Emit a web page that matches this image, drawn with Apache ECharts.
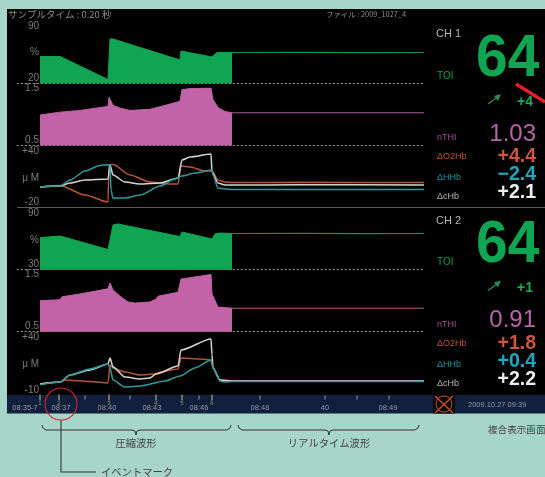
<!DOCTYPE html>
<html><head><meta charset="utf-8">
<style>html,body{margin:0;padding:0;background:#a8d5c9}#c{width:545px;height:477px;filter:blur(0.45px)}</style>
<script src="https://cdn.jsdelivr.net/npm/echarts@6/dist/echarts.min.js"></script>
</head><body><div id="c"></div>
<script>
// time axis (samples); compressed part ends at 192, real-time part runs to 384
const realT = [192, 260, 325, 384];

const toi1T = [0,20,68,70,73,140,141,172,177,192];
const toi1V = [53.2,53.2,24.9,74.7,74.7,48.9,59.9,52.6,58.1,58.1];
const toi1Real = [58.1,58.2,58,58.1];

const nthi1T = [0,20,40,68,69,73,80,90,110,130,140,142,150,171,173,178,185,192];
const nthi1V = [1.03,1.08,1.11,1.18,1.34,1.2,1.15,1.11,1.13,1.22,1.27,1.47,1.49,1.5,1.3,1.16,1.09,1.07];
const nthi1Real = [1.07,1.07,1.07,1.07];

const hhb1T = [0,20,30,45,60,70,71,73,85,100,120,135,142,155,172,173,178,185,192,260,384];
const hhb1V = [1.4,2.5,8.9,18.6,24.5,25.3,-1.8,-10.4,-10.4,-7.2,2.5,10,13.2,16.4,19.6,14.3,0.3,-0.7,-1.3,-1.2,-1.3];
const o2hb1T = [0,20,45,68,69,73,90,110,130,138,141,150,165,172,178,185,192,260,384];
const o2hb1V = [1.4,3,-7.2,-14.7,25,25.5,14.3,6.8,4.6,4.6,23.9,22.9,18.6,18.6,8.9,6.8,6.2,6.4,6.3];
const chb1T = [0,20,30,45,68,70,73,85,100,120,138,142,150,171,172,178,185,192,260,384];
const chb1V = [1.4,2.5,5.7,8.9,10,25,14.3,6.8,4.6,5.7,11,30.4,33.6,36.8,17.5,5.7,3.6,3.6,3.8,3.7];

const toi2T = [0,20,68,70,73,78,140,142,172,175,180,192];
const toi2V = [63.9,65.7,51.4,61.4,77.3,78.4,65.1,69.9,62.5,67.8,68.8,68.3];
const toi2Real = [68.3,68.4,68.2,68.3];

const nthi2T = [0,20,22,40,68,70,73,80,88,95,110,116,118,138,141,171,172,178,192];
const nthi2V = [1.04,1.06,1.11,1.16,1.25,1.35,1.23,1.12,1.02,1,1.02,1.07,1.12,1.19,1.42,1.5,1.16,0.93,0.91];
const nthi2Real = [0.91,0.91,0.91,0.91];

const hhb2T = [0,20,30,50,68,70,73,85,100,125,140,155,171,173,180,185,192,260,384];
const hhb2V = [-5,-2.5,4.2,9.8,14.5,10.8,-0.6,-7.2,-6.2,-1.5,3.2,10.8,18.3,10.8,-1.5,-2.5,-2,-2,-2];
const o2hb2T = [0,20,25,50,68,70,73,85,100,115,120,138,141,160,171,173,180,192,260,384];
const o2hb2V = [-4.3,-2.5,-0.6,-2,-3.4,13.6,10.8,7,4.2,5.1,7,9.8,20.2,19.2,18.3,10.8,-0.6,-1.5,-1.5,-1.5];
const chb2T = [0,20,30,50,68,70,73,85,100,110,116,138,141,171,172,173,180,192,260,384];
const chb2V = [-4.3,-2.5,4.2,8.9,14.5,20.2,11.7,2.3,0.4,1.3,5.1,12.6,27.7,38.1,23,10.8,-0.6,-1.5,-1.4,-1.5];

// tick labels
const timeT = [-15,21,67,112,159,220,285,348];
const timeLabels = ['08:35-7','08:37','08:40','08:43','08:46','08:48','40','08:49'];
const eventT = [0,19,69,116,142,172];
const eventNames = ['1','2','3','4','5','6'];
const minorT = [45,90,159,220,285,317,349];

// read-outs
const ch1Read = {name:'CH 1',toi:'64',trend:'+4',nthi:'1.03',o2:'+4.4',hhb:'\u22122.4',chb:'+2.1'};
const ch2Read = {name:'CH 2',toi:'64',trend:'+1',nthi:'0.91',o2:'+1.8',hhb:'+0.4',chb:'+2.2'};

const GREEN='#0fa552', PINK='#c263a8', RED='#b5523a', WHITE='#d9d5cd', TEAL='#2b9c9e', GREY='#7c7c7c';
const pairs=(t,v)=>t.map((x,i)=>[x,v[i]]);

const panels=[
 {top:26.5,bottom:83.5,min:20,max:90,ticks:[20,58,90],labels:['20','%','90'],dots:true,minAlign:'bottom'},
 {top:88,bottom:145.5,min:0.5,max:1.5,ticks:[0.5,1.5],labels:['0.5','1.5'],dots:true,minAlign:'bottom'},
 {top:151,bottom:207,min:-20,max:40,ticks:[-20,11,40],labels:['-20','\u03bc M','+40'],dots:false,minAlign:'bottom'},
 {top:213,bottom:269.7,min:30,max:90,ticks:[30,61,90],labels:['30','%','90'],dots:true,minAlign:'bottom'},
 {top:274.5,bottom:331.7,min:0.5,max:1.5,ticks:[0.5,1.5],labels:['0.5','1.5'],dots:true,minAlign:'bottom'},
 {top:337,bottom:390,min:-10,max:40,ticks:[-10,14.5,40],labels:['-10','\u03bc M','+40'],dots:false,minAlign:'middle'}
];
const grid=[],xAxis=[],yAxis=[],series=[];
panels.forEach((p,i)=>{
  grid.push({left:17,width:407,top:p.top,height:p.bottom-p.top});
  xAxis.push({gridIndex:i,type:'value',min:-23,max:384,splitLine:{show:false},axisTick:{show:false},axisLabel:{show:false},
    axisLine:{show:p.dots,onZero:false,lineStyle:{color:'#8a8a8a',type:[1.5,2.5],width:1}}});
  yAxis.push({gridIndex:i,type:'value',min:p.min,max:p.max,offset:-23,splitLine:{show:false},axisTick:{show:false},axisLine:{show:false,onZero:false},
    axisLabel:{show:true,customValues:p.ticks,margin:1,color:GREY,fontSize:10,fontFamily:'Liberation Sans',verticalAlignMinLabel:p.minAlign,verticalAlignMaxLabel:'middle',
      formatter:v=>p.labels[p.ticks.indexOf(v)]}});
});
function fill(i,t,v,real,color){
  series.push({type:'line',xAxisIndex:i,yAxisIndex:i,data:pairs(t,v),symbol:'none',lineStyle:{color,width:1},itemStyle:{color},areaStyle:{color,opacity:1,origin:'start'},silent:true});
  series.push({type:'line',xAxisIndex:i,yAxisIndex:i,data:pairs(realT,real),symbol:'none',lineStyle:{color,width:1.2,opacity:0.9},itemStyle:{color},silent:true});
}
function curve(i,t,v,color){
  series.push({type:'line',xAxisIndex:i,yAxisIndex:i,data:pairs(t,v),symbol:'none',smooth:0.25,smoothMonotone:'x',lineStyle:{color,width:1.5},itemStyle:{color},silent:true});
}
fill(0,toi1T,toi1V,toi1Real,GREEN);
fill(1,nthi1T,nthi1V,nthi1Real,PINK);
curve(2,o2hb1T,o2hb1V,RED);curve(2,chb1T,chb1V,WHITE);curve(2,hhb1T,hhb1V,TEAL);
fill(3,toi2T,toi2V,toi2Real,GREEN);
fill(4,nthi2T,nthi2V,nthi2Real,PINK);
curve(5,o2hb2T,o2hb2V,RED);curve(5,chb2T,chb2V,WHITE);curve(5,hhb2T,hhb2V,TEAL);

// bottom time bar
grid.push({left:7,right:0,top:395,height:18.5,show:true,backgroundColor:'#10203c',borderWidth:0});
xAxis.push({gridIndex:6,type:'value',min:-33,max:505,splitLine:{show:false},axisTick:{show:false},axisLine:{show:false},
  axisLabel:{show:true,inside:true,customValues:timeT,margin:2,color:'#8f9bad',fontSize:7.5,fontFamily:'Liberation Sans',
    formatter:v=>timeLabels[timeT.indexOf(v)]}});
yAxis.push({gridIndex:6,type:'value',min:0,max:18.5,show:false});
series.push({type:'scatter',xAxisIndex:6,yAxisIndex:6,data:eventT.map(t=>[t,16]),symbol:'rect',symbolSize:[1.5,6],itemStyle:{color:'#b5a878'},silent:true,
  label:{show:true,position:'bottom',distance:0,color:'#b5a878',fontSize:6,fontFamily:'Liberation Sans',formatter:p=>eventNames[p.dataIndex]}});
series.push({type:'scatter',xAxisIndex:6,yAxisIndex:6,data:minorT.map(t=>[t,16]),symbol:'rect',symbolSize:[1,4],itemStyle:{color:'#aeb6c2'},silent:true});

// screen furniture
const gfx=[];
const CJK='"Noto Sans CJK JP","Liberation Sans",sans-serif';
function txt(x,y,text,size,fill,o={}){
  gfx.push({type:'text',x,y,z:o.z||10,scaleX:o.sx||1,silent:true,style:{text,fill,textAlign:o.align||'left',textVerticalAlign:'middle',
    font:(o.bold?'bold ':'')+size+'px '+(o.font||'"Liberation Sans",sans-serif')}});
}
function seg(pts,stroke,w,z){gfx.push({type:'polyline',z:z||10,silent:true,shape:{points:pts},style:{stroke,fill:null,lineWidth:w}});}

gfx.push({type:'rect',z:-10,silent:true,shape:{x:7,y:9,width:538,height:386},style:{fill:'#000'}});
txt(8,14,'\u30b5\u30f3\u30d7\u30eb\u30bf\u30a4\u30e0 : 0.20 \u79d2',9.5,'#8c8c8c',{font:CJK});
txt(326,14,'\u30d5\u30a1\u30a4\u30eb : 2009_1027_4',7.4,'#8c8c8c',{font:CJK});
seg([[17,207.5],[545,207.5]],'#5a5a5a',1);

function readout(r,dy){
  txt(436,34+dy,r.name,11,'#b5b5b5');
  txt(476,59+dy,r.toi,60,GREEN,{bold:true,sx:0.95});
  txt(437,76+dy,'TOI',10,'#129a50');
  seg([[488,104+dy],[499,96+dy]],'#2f8a5a',1.2);
  gfx.push({type:'polygon',z:10,silent:true,shape:{points:[[501,94+dy],[494,96+dy],[498,101+dy]]},style:{fill:'#2f8a5a'}});
  txt(517,102+dy,r.trend,14,'#1fa85a',{bold:true});
  txt(437,138+dy,'nTHI',9,'#a0508c');
  txt(536,134+dy,r.nthi,24,'#b565a8',{align:'right'});
  txt(437,157+dy,'\u0394O2Hb',9,'#c0503a');
  txt(536,157+dy,r.o2,19.5,'#d0553c',{align:'right',bold:true});
  txt(437,178+dy,'\u0394HHb',9,'#1a93a5');
  txt(536,175+dy,r.hhb,19.5,'#1fa8c0',{align:'right',bold:true});
  txt(437,197+dy,'\u0394cHb',9,'#b5b5b5');
  txt(536,193+dy,r.chb,19.5,'#eeeeee',{align:'right',bold:true});
}
readout(ch1Read,0);
readout(ch2Read,186.5);
seg([[516,84],[545,102]],'#e3202a',3.5,20);

// alarm box
gfx.push({type:'rect',z:5,silent:true,shape:{x:433,y:395,width:22,height:18.5},style:{fill:'#0a0a0a'}});
seg([[435,396],[453,413]],'#c8492f',1.5,6);seg([[453,396],[435,413]],'#c8492f',1.5,6);
gfx.push({type:'circle',z:6,silent:true,shape:{cx:444,cy:404,r:8},style:{stroke:'#c8492f',fill:null,lineWidth:1}});
txt(468,405,'2009.10.27 09:39',7.5,'#8f9bad');

// annotations
gfx.push({type:'circle',z:20,silent:true,shape:{cx:61,cy:404,r:16},style:{stroke:'#d9262c',fill:null,lineWidth:1.1}});
seg([[61,420],[61,472],[96,472]],'#333',1.1);
txt(101,472,'\u30a4\u30d9\u30f3\u30c8\u30de\u30fc\u30af',10.3,'#444',{font:CJK});
seg([[42,425],[43,428],[46,430],[132,430],[135,431],[136,435],[137,431],[140,430],[227,430],[230,428],[231,425]],'#333',1);
seg([[238,425],[239,428],[242,430],[325,430],[328,431],[329,435],[330,431],[333,430],[415,430],[418,428],[419,425]],'#333',1);
txt(136,443,'\u5727\u7e2e\u6ce2\u5f62',10.3,'#444',{font:CJK,align:'center'});
txt(329,443,'\u30ea\u30a2\u30eb\u30bf\u30a4\u30e0\u6ce2\u5f62',10.3,'#444',{font:CJK,align:'center'});
txt(488,429,'\u8907\u5408\u8868\u793a\u753b\u9762',9.6,'#444',{font:CJK});

const chart=echarts.init(document.getElementById('c'));
chart.setOption({animation:false,backgroundColor:'#a8d5c9',tooltip:{show:false},legend:{show:false},grid,xAxis,yAxis,series,graphic:{elements:gfx}});
</script></body></html>
